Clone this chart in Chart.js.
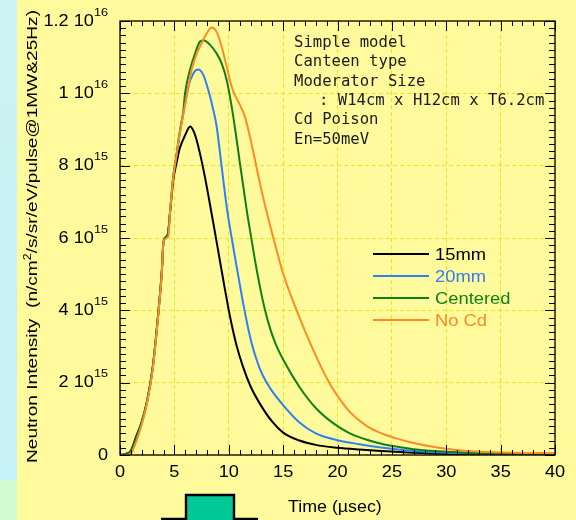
<!DOCTYPE html>
<html lang="en">
<head>
  <meta charset="UTF-8">
  <title>Neutron pulse</title>
  <script src="https://cdn.jsdelivr.net/npm/chart.js"></script>
  <style>
    body { margin: 0; background: #fffb9c; }
    #wrap { width: 576px; height: 520px; }
  </style>
</head>
<body>
  <div id="wrap"><canvas id="pulseChart" width="576" height="520"></canvas></div>
  <script>
    // time in usec, intensity in units of 1e15 n/cm2/s/sr/eV/pulse
    const t15 = [0, 0.5, 1, 1.5, 2, 2.5, 3, 3.5, 3.85, 4.0, 4.4, 4.6, 4.9, 5.25, 5.5, 6.0, 6.45, 6.9, 7.35, 7.8, 8.2, 8.6, 9.2, 9.65, 10.1, 10.7, 11.3, 12.0, 12.9, 14.0, 15.0, 16.5, 18.0, 20.0, 22.0, 24.0, 27.0, 30.0, 35.0, 40.0];
    const v15 = [0, 0.03, 0.12, 0.52, 0.92, 1.5, 2.4, 3.85, 5.1, 5.9, 6.1, 6.7, 7.6, 8.15, 8.48, 8.85, 9.08, 8.85, 8.34, 7.7, 7.05, 6.38, 5.35, 4.58, 3.85, 3.05, 2.45, 1.9, 1.4, 0.92, 0.62, 0.4, 0.28, 0.2, 0.15, 0.11, 0.06, 0.03, 0.02, 0.01];

    const t20 = [0, 0.5, 1, 1.5, 2, 2.5, 3, 3.5, 3.85, 4.0, 4.4, 4.6, 4.9, 5.2, 5.5, 5.98, 6.28, 6.74, 7.2, 7.66, 8.12, 8.58, 8.89, 9.2, 9.5, 9.81, 10.27, 10.73, 11.19, 11.65, 12.1, 12.6, 13.1, 13.8, 15, 16.5, 18, 20, 22, 24, 26, 28, 30, 35, 40];
    const v20 = [0, 0.02, 0.08, 0.45, 0.9, 1.5, 2.4, 3.85, 5.1, 5.9, 6.1, 6.7, 7.7, 8.3, 8.9, 9.7, 10.18, 10.55, 10.66, 10.51, 10.09, 9.54, 9.08, 8.34, 7.6, 6.87, 6.0, 5.2, 4.42, 3.7, 3.1, 2.6, 2.22, 1.85, 1.38, 0.9, 0.6, 0.41, 0.3, 0.21, 0.14, 0.09, 0.06, 0.03, 0.02];

    const tCen = [0, 0.5, 1, 1.5, 2, 2.5, 3, 3.5, 3.85, 4.0, 4.4, 4.6, 4.9, 5.2, 5.5, 5.82, 5.98, 6.44, 6.9, 7.36, 7.72, 8.28, 8.89, 9.35, 9.81, 10.11, 10.42, 10.73, 11.03, 11.34, 11.65, 11.95, 12.41, 12.87, 13.3, 13.8, 14.3, 15, 16.5, 18, 19.6, 21, 22.7, 24.2, 25.7, 27, 30, 33, 40];
    const vCen = [0, 0.02, 0.1, 0.47, 0.92, 1.5, 2.4, 3.85, 5.1, 5.9, 6.1, 6.7, 7.7, 8.3, 8.95, 9.5, 10.0, 10.65, 11.1, 11.43, 11.46, 11.34, 11.1, 10.83, 10.37, 9.91, 9.35, 8.71, 8.06, 7.42, 6.77, 6.22, 5.39, 4.65, 4.05, 3.5, 3.08, 2.64, 1.88, 1.3, 0.88, 0.62, 0.42, 0.3, 0.22, 0.16, 0.09, 0.05, 0.03];

    const tNoCd = [0, 0.5, 1, 1.5, 2, 2.5, 3, 3.5, 3.85, 4.0, 4.45, 4.6, 4.9, 5.2, 5.5, 5.8, 6.13, 6.59, 7.05, 7.51, 7.97, 8.43, 8.89, 9.35, 9.81, 10.27, 10.57, 11.03, 11.49, 11.95, 12.41, 12.87, 13.3, 14.1, 15, 16.24, 17.7, 19.24, 20.2, 21.1, 22.7, 24.2, 25.4, 27, 28.5, 30, 31.6, 33.1, 36.2, 40];
    const vNoCd = [0, 0.0, 0.04, 0.38, 0.85, 1.45, 2.35, 3.8, 5.05, 5.9, 6.05, 6.7, 7.7, 8.3, 8.9, 9.4, 9.91, 10.65, 11.1, 11.38, 11.66, 11.82, 11.7, 11.29, 10.74, 10.18, 9.95, 9.68, 9.35, 8.8, 8.16, 7.51, 6.95, 6.0, 5.02, 4.0, 2.95, 2.0, 1.55, 1.2, 0.8, 0.58, 0.46, 0.33, 0.24, 0.17, 0.12, 0.09, 0.06, 0.05];

    const seriesNames = ['15mm', '20mm', 'Centered', 'No Cd'];
    const seriesColors = ['#000000', '#2f7ff5', '#0f7f16', '#ff8a26'];

    const xTicks = [0, 5, 10, 15, 20, 25, 30, 35, 40];
    const yTicks = [0, 2, 4, 6, 8, 10, 12];
    const yTickBase = ['0', '2 10', '4 10', '6 10', '8 10', '1 10', '1.2 10'];
    const yTickExp = ['', '15', '15', '15', '15', '16', '16'];

    const noteLines = ['Simple model', 'Canteen type', 'Moderator Size', ': W14cm x H12cm x T6.2cm', 'Cd Poison', 'En=50meV'];

    const SANS = "'Liberation Sans', Arial, sans-serif";

    // draw text stretched a bit horizontally (original slide font is wider than Arial)
    function txt(ctx, s, x, y, size, color, align, sx) {
      sx = sx || 1.1;
      ctx.save();
      ctx.font = size + 'px ' + SANS;
      const w = ctx.measureText(s).width * sx;
      let x0 = x;
      if (align === 'center') x0 = x - w / 2;
      if (align === 'right') x0 = x - w;
      ctx.translate(x0, y);
      ctx.scale(sx, 1);
      ctx.fillStyle = color;
      ctx.textAlign = 'left';
      ctx.textBaseline = 'alphabetic';
      ctx.fillText(s, 0, 0);
      ctx.restore();
      return w;
    }

    const decorPlugin = {
      id: 'decorPlugin',
      beforeDraw(chart) {
        const ctx = chart.ctx;
        ctx.save();
        ctx.fillStyle = '#fffb9c';
        ctx.fillRect(0, 0, chart.width, chart.height);
        const g = ctx.createLinearGradient(0, 0, 0, 480);
        g.addColorStop(0, '#cdf3f6');
        g.addColorStop(1, '#c6f3f7');
        ctx.fillStyle = g;
        ctx.fillRect(0, 0, 17, 480);
        ctx.fillStyle = '#d3fbd3';
        ctx.fillRect(0, 480, 17, 40);
        ctx.restore();
      },
      afterDatasetsDraw(chart) {
        const ctx = chart.ctx;
        const xs = chart.scales.x, ys = chart.scales.y;
        const a = chart.chartArea;
        ctx.save();

        // frame
        ctx.strokeStyle = '#000';
        ctx.lineWidth = 1.3;
        ctx.strokeRect(a.left, a.top, a.right - a.left, a.bottom - a.top);

        // inward ticks on all four sides
        ctx.lineWidth = 1;
        ctx.beginPath();
        for (let v = 0; v <= 40; v += 1) {
          const px = Math.round(xs.getPixelForValue(v)) + 0.5;
          const len = v % 5 === 0 ? 10 : 5;
          ctx.moveTo(px, a.bottom); ctx.lineTo(px, a.bottom - len);
          ctx.moveTo(px, a.top); ctx.lineTo(px, a.top + len);
        }
        for (let k = 0; k <= 60; k++) {
          const py = Math.round(ys.getPixelForValue(k * 0.2)) + 0.5;
          const len = k % 10 === 0 ? 10 : 6;
          ctx.moveTo(a.left, py); ctx.lineTo(a.left + len, py);
          ctx.moveTo(a.right, py); ctx.lineTo(a.right - len, py);
        }
        ctx.stroke();

        // x tick labels
        xTicks.forEach(v => {
          txt(ctx, String(v), xs.getPixelForValue(v), 477, 16.5, '#000', 'center');
        });

        // y tick labels with superscript exponent
        yTicks.forEach((v, i) => {
          const py = ys.getPixelForValue(v);
          ctx.font = '11.5px ' + SANS;
          const we = yTickExp[i] ? ctx.measureText(yTickExp[i]).width * 1.1 : 0;
          const right = 108;
          txt(ctx, yTickBase[i], right - we, py + 4.5, 16.5, '#000', 'right');
          if (yTickExp[i]) txt(ctx, yTickExp[i], right - we, py - 5.5, 11.5, '#000', 'left');
        });

        // x axis title
        txt(ctx, 'Time (\u00b5sec)', 288, 512, 16.5, '#000', 'left', 1.08);

        // y axis title, rotated, fitted between y=463 and y=10
        const segs = [['Neutron Intensity  (n/cm', false], ['2', true], ['/s/sr/eV/pulse@1MW&25Hz)', false]];
        let total = 0;
        segs.forEach(s => {
          ctx.font = (s[1] ? 10 : 15.5) + 'px ' + SANS;
          total += ctx.measureText(s[0]).width;
        });
        const sx = 453 / total;
        ctx.save();
        ctx.translate(37, 463);
        ctx.rotate(-Math.PI / 2);
        ctx.scale(sx, 1);
        ctx.fillStyle = '#000';
        let cx = 0;
        segs.forEach(s => {
          ctx.font = (s[1] ? 10 : 15.5) + 'px ' + SANS;
          ctx.fillText(s[0], cx, s[1] ? -6 : 0);
          cx += ctx.measureText(s[0]).width;
        });
        ctx.restore();

        // note block
        ctx.font = '15.6px "DejaVu Sans Mono", monospace';
        ctx.fillStyle = '#1a1a1a';
        ctx.textAlign = 'left';
        noteLines.forEach((line, i) => {
          const x = i === 3 ? 319 : 294;
          ctx.fillText(line, x, 47 + i * 19.35);
        });

        // legend
        seriesNames.forEach((name, i) => {
          const y = 254 + i * 22;
          ctx.strokeStyle = seriesColors[i];
          ctx.lineWidth = 2;
          ctx.beginPath();
          ctx.moveTo(373, y); ctx.lineTo(429, y);
          ctx.stroke();
          txt(ctx, name, 435, y + 6.2, 17, seriesColors[i], 'left', 1.08);
        });

        // proton pulse sketch under the axis
        ctx.fillStyle = '#00c896';
        ctx.fillRect(186, 495, 48, 25);
        ctx.strokeStyle = '#000';
        ctx.lineWidth = 2.4;
        ctx.beginPath();
        ctx.moveTo(161, 519); ctx.lineTo(186, 519); ctx.lineTo(186, 495);
        ctx.lineTo(234, 495); ctx.lineTo(234, 519); ctx.lineTo(258, 519);
        ctx.stroke();

        ctx.restore();
      }
    };

    function toPoints(ts, vs) {
      return ts.map((t, i) => ({ x: t, y: vs[i] }));
    }

    const allT = [t15, t20, tCen, tNoCd];
    const allV = [v15, v20, vCen, vNoCd];

    const ctx = document.getElementById('pulseChart').getContext('2d');
    new Chart(ctx, {
      type: 'line',
      data: {
        datasets: seriesNames.map((name, i) => ({
          label: name,
          data: toPoints(allT[i], allV[i]),
          borderColor: seriesColors[i],
          borderWidth: 2,
          pointRadius: 0,
          fill: false,
          cubicInterpolationMode: 'monotone'
        })).reverse()
      },
      options: {
        responsive: false,
        animation: false,
        layout: { padding: { left: 120, top: 21, right: 21, bottom: 65 } },
        plugins: {
          legend: { display: false },
          tooltip: { enabled: false }
        },
        scales: {
          x: {
            type: 'linear', min: 0, max: 40,
            ticks: { display: false, stepSize: 5 },
            grid: { color: '#f2e21c', lineWidth: 1, drawTicks: false },
            border: { display: false, dash: [4, 3] }
          },
          y: {
            type: 'linear', min: 0, max: 12,
            ticks: { display: false, stepSize: 2 },
            grid: { color: '#f2e21c', lineWidth: 1, drawTicks: false },
            border: { display: false, dash: [4, 3] }
          }
        }
      },
      plugins: [decorPlugin]
    });
  </script>
</body>
</html>
